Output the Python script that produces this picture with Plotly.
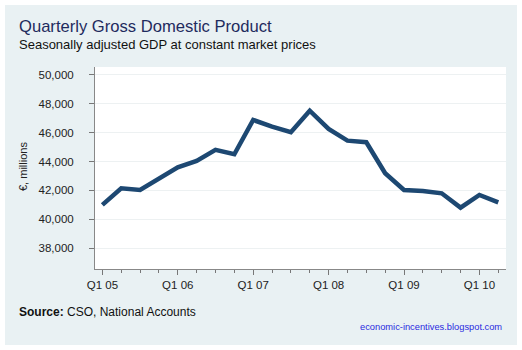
import plotly.graph_objects as go

quarters = ["Q1 05","Q2 05","Q3 05","Q4 05","Q1 06","Q2 06","Q3 06","Q4 06",
            "Q1 07","Q2 07","Q3 07","Q4 07","Q1 08","Q2 08","Q3 08","Q4 08",
            "Q1 09","Q2 09","Q3 09","Q4 09","Q1 10","Q2 10"]
gdp = [41000, 42150, 42030, 42840, 43600, 44040, 44800, 44500,
       46870, 46410, 46020, 47510, 46250, 45440, 45330, 43190,
       42030, 41960, 41800, 40810, 41690, 41180]
y_ticks = [38000, 40000, 42000, 44000, 46000, 48000, 50000]
x_labels = ["Q1 05", "Q1 06", "Q1 07", "Q1 08", "Q1 09", "Q1 10"]

W, H = 522, 350
L, R, T, B = 95, 16, 67, 81
PW, PH = W - L - R, H - T - B

def px(x):
    return (x - L) / PW

def py(y):
    return (H - B - y) / PH

xi = list(range(len(quarters)))
xtickvals = [quarters.index(q) for q in x_labels]

fig = go.Figure()
fig.add_trace(go.Scatter(
    x=xi, y=gdp, mode="lines",
    line=dict(color="#1d4872", width=4.5),
    hoverinfo="skip", showlegend=False,
))

font = "Liberation Sans, Arial, sans-serif"

fig.update_layout(
    width=W, height=H,
    margin=dict(l=L, r=R, t=T, b=B),
    paper_bgcolor="white",
    plot_bgcolor="rgba(0,0,0,0)",
    font=dict(family=font, size=11, color="#222"),
    shapes=[
        dict(type="rect", xref="paper", yref="paper", layer="below",
             x0=px(5), x1=px(517), y0=py(345), y1=py(5),
             fillcolor="#e9f1f3", line=dict(width=0)),
        dict(type="rect", xref="paper", yref="paper", layer="below",
             x0=0, x1=1, y0=0, y1=1,
             fillcolor="white", line=dict(width=0)),
    ],
    xaxis=dict(
        range=[-0.39, 21.41],
        tickvals=xtickvals, ticktext=x_labels,
        ticks="outside", ticklen=5, tickcolor="#777", tickwidth=1,
        showline=True, linecolor="#888", linewidth=1,
        showgrid=False, zeroline=False,
        minor=dict(dtick=1, tick0=0, ticks="outside", ticklen=3,
                   tickcolor="#777", showgrid=False),
        tickfont=dict(size=11.5, color="#222"),
    ),
    yaxis=dict(
        range=[36570, 50530],
        tickvals=y_ticks, tickformat=",",
        ticks="outside", ticklen=5, tickcolor="#777", tickwidth=1,
        ticklabelstandoff=13,
        showline=True, linecolor="#888", linewidth=1,
        showgrid=True, gridcolor="#edf1f2", gridwidth=1,
        zeroline=False,
        tickfont=dict(size=11.5, color="#222"),
    ),
    annotations=[
        dict(text="Quarterly Gross Domestic Product", xref="paper", yref="paper",
             x=px(17), y=py(26), xanchor="left", yanchor="middle", showarrow=False,
             font=dict(size=16.6, color="#1f2b5e", family=font)),
        dict(text="Seasonally adjusted GDP at constant market prices", xref="paper", yref="paper",
             x=px(17), y=py(45), xanchor="left", yanchor="middle", showarrow=False,
             font=dict(size=13, color="#111", family=font)),
        dict(text="€, millions", xref="paper", yref="paper", textangle=-90,
             x=px(23), y=py(167), xanchor="center", yanchor="middle", showarrow=False,
             font=dict(size=11, color="#222", family=font)),
        dict(text="<b>Source:</b> CSO, National Accounts", xref="paper", yref="paper",
             x=px(17), y=py(312), xanchor="left", yanchor="middle", showarrow=False,
             font=dict(size=12, color="#111", family=font)),
        dict(text="economic-incentives.blogspot.com", xref="paper", yref="paper",
             x=px(504), y=py(327), xanchor="right", yanchor="middle", showarrow=False,
             font=dict(size=9.3, color="#2a2ae0", family=font)),
    ],
)

fig.write_html("out.html")
